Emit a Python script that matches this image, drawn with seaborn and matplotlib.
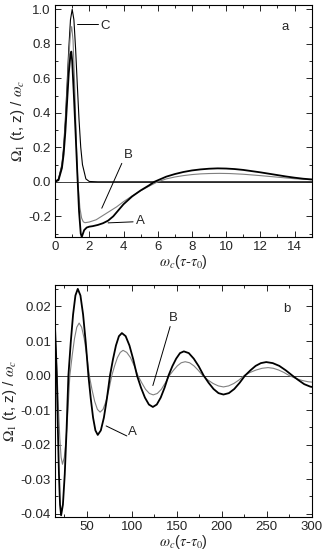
import matplotlib
matplotlib.use("Agg")
import matplotlib.pyplot as plt
import seaborn as sns
from matplotlib.ticker import MultipleLocator, FormatStrFormatter

# panel a: short times, curves A, B and the pulse C
a_x_A = [0, 0.2, 0.4, 0.5, 0.6, 0.7, 0.8, 0.9, 0.95, 1.0, 1.1, 1.2, 1.3, 1.4, 1.5, 1.56,
         1.7, 1.85, 2.0, 2.2, 2.5, 2.8, 3.1, 3.4, 3.7, 4.0, 4.5, 5.0, 5.5, 5.8, 6.5, 7.0,
         7.5, 8.0, 8.5, 9.0, 9.5, 10.0, 10.5, 11.0, 11.5, 12.0, 12.5, 13.0, 13.5, 14.0, 14.5, 15.0]
a_y_A = [0, 0.01, 0.08, 0.16, 0.29, 0.46, 0.63, 0.74, 0.755, 0.70, 0.50, 0.28, 0.05, -0.17, -0.30, -0.32,
         -0.28, -0.265, -0.26, -0.257, -0.25, -0.24, -0.225, -0.20, -0.165, -0.13, -0.085, -0.05, -0.02, 0.0, 0.03, 0.045,
         0.057, 0.066, 0.072, 0.076, 0.078, 0.077, 0.074, 0.069, 0.062, 0.055, 0.047, 0.039, 0.031, 0.024, 0.018, 0.014]

a_x_B = [0, 0.2, 0.4, 0.5, 0.6, 0.7, 0.8, 0.9, 0.97, 1.05, 1.15, 1.25, 1.33, 1.45, 1.55, 1.65,
         1.75, 2.0, 2.4, 2.8, 3.2, 3.6, 4.0, 4.5, 5.0, 5.5, 6.0, 6.5, 7.0, 7.5, 8.0, 8.5,
         9.0, 9.6, 10.2, 11.0, 12.0, 13.0, 14.0, 15.0]
a_y_B = [0, 0.012, 0.09, 0.18, 0.33, 0.52, 0.72, 0.86, 0.90, 0.82, 0.55, 0.20, 0.0, -0.15, -0.21, -0.232,
         -0.237, -0.233, -0.22, -0.195, -0.17, -0.145, -0.115, -0.082, -0.052, -0.025, 0.0, 0.017, 0.028, 0.036, 0.042, 0.046,
         0.048, 0.049, 0.048, 0.044, 0.036, 0.027, 0.018, 0.012]

a_x_C = [0, 0.2, 0.4, 0.5, 0.6, 0.7, 0.8, 0.9, 1.0, 1.1, 1.2, 1.3, 1.4, 1.5, 1.6, 1.8, 2.0, 2.5, 15.0]
a_y_C = [0.002, 0.017, 0.10, 0.20, 0.36, 0.56, 0.77, 0.94, 1.0, 0.94, 0.77, 0.56, 0.36, 0.20, 0.10, 0.017, 0.002, 0.0, 0.0]

# panel b: long times, curves A and B
b_x_A = [15, 16.0, 16.9,
         18.1, 19.3, 20.5, 21.7, 23.7, 25.75, 27.8, 29.8,
         32.4, 35.0, 37.6, 40.2, 43.15, 46.1, 49.05, 52.0,
         54.6, 57.2, 59.8, 62.4, 65.8, 69.2, 72.6, 76.0,
         79.3, 82.6, 85.9, 89.2, 93.4, 97.6, 101.8, 106.0,
         110.4, 114.8, 119.2, 123.6, 127.95, 132.3, 136.65, 141.0,
         145.25, 149.5, 153.75, 158.0, 163.5, 169.0, 174.5, 180.0,
         185.5, 191.0, 196.5, 202.0, 208.0, 214.0, 220.0, 226.0,
         231.9, 237.75, 243.6, 249.5, 256.75, 264.0, 271.25, 278.5,
         285.1, 291.7, 298.3, 300.0]
b_y_A = [0.0135, 0.007, 0.0,
         -0.0155, -0.0286, -0.0374, -0.0405, -0.0374, -0.0286, -0.0155, 0.0,
         0.0096, 0.0177, 0.0232, 0.0251, 0.0232, 0.0177, 0.0096, 0.0,
         -0.0066, -0.0122, -0.0159, -0.0172, -0.0159, -0.0122, -0.0066, 0.0,
         0.0047, 0.0087, 0.0114, 0.0123, 0.0114, 0.0087, 0.0047, 0.0,
         -0.0035, -0.0064, -0.0084, -0.0091, -0.0084, -0.0064, -0.0035, 0.0,
         0.0027, 0.0049, 0.0065, 0.0070, 0.0065, 0.0049, 0.0027, 0.0,
         -0.0021, -0.0039, -0.0051, -0.0055, -0.0051, -0.0039, -0.0021, 0.0,
         0.0015, 0.0028, 0.0036, 0.0039, 0.0036, 0.0028, 0.0015, 0.0,
         -0.0013, -0.0025, -0.0032, -0.0033]

b_x_B = [15, 16.1, 17.3,
         18.8, 20.25, 21.7, 23.2, 25.25, 27.3, 29.35, 31.4,
         34.0, 36.55, 39.1, 41.7, 44.5, 47.35, 50.2, 53.0,
         56.0, 59.0, 62.0, 65.0, 68.25, 71.5, 74.75, 78.0,
         81.1, 84.25, 87.4, 90.5, 94.6, 98.75, 102.9, 107.0,
         111.25, 115.5, 119.75, 124.0, 128.5, 133.0, 137.5, 142.0,
         146.4, 150.75, 155.1, 159.5, 164.4, 169.25, 174.1, 179.0,
         184.75, 190.5, 196.25, 202.0, 207.75, 213.5, 219.25, 225.0,
         231.6, 238.25, 244.9, 251.5, 257.4, 263.25, 269.1, 275.0,
         282.0, 289.0, 296.0, 300.0]
b_y_B = [0.012, 0.006, 0.0,
         -0.0098, -0.0182, -0.0237, -0.0257, -0.0237, -0.0182, -0.0098, 0.0,
         0.0058, 0.0107, 0.0140, 0.0152, 0.0140, 0.0107, 0.0058, 0.0,
         -0.0041, -0.0075, -0.0098, -0.0106, -0.0098, -0.0075, -0.0041, 0.0,
         0.0028, 0.0052, 0.0067, 0.0073, 0.0067, 0.0052, 0.0028, 0.0,
         -0.0021, -0.0040, -0.0052, -0.0056, -0.0052, -0.0040, -0.0021, 0.0,
         0.0015, 0.0028, 0.0037, 0.0040, 0.0037, 0.0028, 0.0015, 0.0,
         -0.0013, -0.0023, -0.0030, -0.0033, -0.0030, -0.0023, -0.0013, 0.0,
         0.0009, 0.0016, 0.0021, 0.0023, 0.0021, 0.0016, 0.0009, 0.0,
         -0.0008, -0.0014, -0.0018, -0.0019]

sns.set_style("ticks")
plt.rcParams['font.family'] = ['Liberation Sans', 'DejaVu Sans']
plt.rcParams['mathtext.fontset'] = 'stix'
plt.rcParams['axes.unicode_minus'] = False
plt.rcParams['xtick.direction'] = 'in'
plt.rcParams['ytick.direction'] = 'in'

fig = plt.figure(figsize=(3.24, 5.59), dpi=100)
ax_a = fig.add_axes([0.170, 0.576, 0.792, 0.415])
ax_b = fig.add_axes([0.170, 0.075, 0.792, 0.415])

thick = dict(color='black', linewidth=1.3)
thin_gray = dict(color='#808080', linewidth=0.8)
thin_black = dict(color='black', linewidth=0.8)

for ax in (ax_a, ax_b):
    ax.axhline(0, color='#404040', linewidth=0.7, zorder=1)

sns.lineplot(x=a_x_C, y=a_y_C, ax=ax_a, sort=False, **thin_black)
sns.lineplot(x=a_x_B, y=a_y_B, ax=ax_a, sort=False, **thin_gray)
sns.lineplot(x=a_x_A, y=a_y_A, ax=ax_a, sort=False, **thick)

sns.lineplot(x=b_x_B, y=b_y_B, ax=ax_b, sort=False, **thin_gray)
sns.lineplot(x=b_x_A, y=b_y_A, ax=ax_b, sort=False, **thick)

ax_a.set_xlim(0, 15)
ax_a.set_ylim(-0.32, 1.025)
ax_a.xaxis.set_major_locator(MultipleLocator(2))
ax_a.xaxis.set_minor_locator(MultipleLocator(1))
ax_a.yaxis.set_major_locator(MultipleLocator(0.2))
ax_a.yaxis.set_minor_locator(MultipleLocator(0.1))
ax_a.yaxis.set_major_formatter(FormatStrFormatter('%.1f'))

ax_b.set_xlim(15, 300)
ax_b.set_ylim(-0.041, 0.0262)
ax_b.xaxis.set_major_locator(MultipleLocator(50))
ax_b.xaxis.set_minor_locator(MultipleLocator(25))
ax_b.yaxis.set_major_locator(MultipleLocator(0.01))
ax_b.yaxis.set_minor_locator(MultipleLocator(0.005))
ax_b.yaxis.set_major_formatter(FormatStrFormatter('%.2f'))

ylab = r'$\Omega_1$ (t, z) / $\omega_c$'
xlab = r'$\omega_c$($\tau$-$\tau_0$)'
for ax in (ax_a, ax_b):
    ax.tick_params(which='both', top=True, right=True, labelsize=9.5, pad=3, width=0.7)
    ax.tick_params(which='major', length=4)
    ax.tick_params(which='minor', length=2.2)
    for s in ax.spines.values():
        s.set_linewidth(0.8)
        s.set_color('black')
    ax.set_xlabel(xlab, fontsize=10.5, labelpad=0)
    ax.set_ylabel(ylab, fontsize=11, labelpad=1)

# labels on the curves
ax_a.plot([1.27, 2.53], [0.914, 0.914], color='black', linewidth=0.7)
ax_a.text(2.92, 0.905, 'C', fontsize=9.5, ha='center', va='center')
ax_a.plot([3.90, 2.73], [0.107, -0.153], color='black', linewidth=0.7)
ax_a.text(4.27, 0.155, 'B', fontsize=9.5, ha='center', va='center')
ax_a.plot([3.10, 4.56], [-0.238, -0.232], color='black', linewidth=0.7)
ax_a.text(4.97, -0.228, 'A', fontsize=9.5, ha='center', va='center')
ax_a.text(0.897, 0.905, 'a', transform=ax_a.transAxes, fontsize=9.5, ha='center', va='center')

ax_b.plot([142.8, 123.6], [0.0142, -0.0029], color='black', linewidth=0.7)
ax_b.text(146.1, 0.0167, 'B', fontsize=9.5, ha='center', va='center')
ax_b.plot([71.7, 94.7], [-0.0146, -0.0175], color='black', linewidth=0.7)
ax_b.text(100.6, -0.0164, 'A', fontsize=9.5, ha='center', va='center')
ax_b.text(0.904, 0.897, 'b', transform=ax_b.transAxes, fontsize=9.5, ha='center', va='center')

fig.savefig('out.png', dpi=100)
